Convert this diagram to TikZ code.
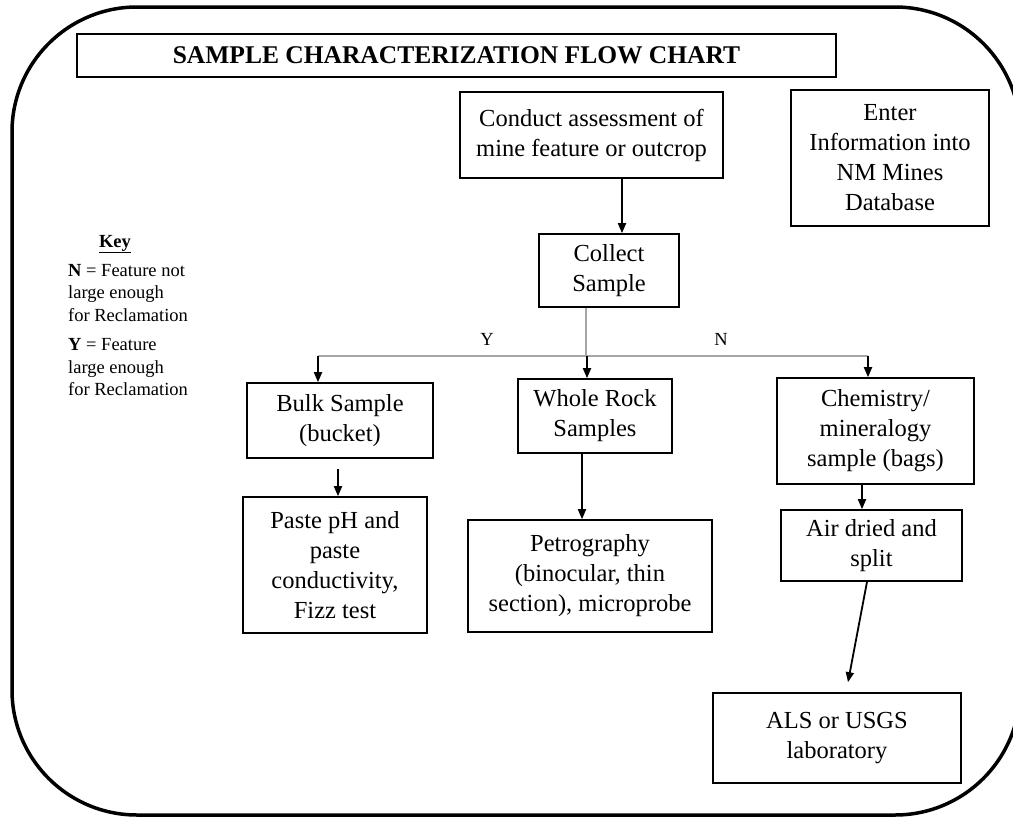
\documentclass[tikz,border=0pt]{standalone}
\usepackage{fontspec}
\setmainfont{Liberation Serif}
\usetikzlibrary{arrows.meta}

\begin{document}
\begin{tikzpicture}[x=1pt, y=-1pt,
		box/.style={draw, line width=1.6pt, align=center, inner sep=0pt, font=\fontsize{24.5}{30}\selectfont},
		arr/.style={-{Triangle[length=10pt, width=8pt]}, line width=1.8pt},
		grayline/.style={draw=black!35, line width=1.5pt},
		small/.style={font=\fontsize{18.5}{22.5}\selectfont}]
	\useasboundingbox (0,0) rectangle (1013,817);

	% outer frame
	\draw[line width=3.5pt, rounded corners=125pt] (12,7) rectangle (1020,815);

	% title
	\node[box, minimum width=759pt, minimum height=43pt, font=\fontsize{25.5}{30}\selectfont\bfseries] (title) at (456.5,55.5) {SAMPLE CHARACTERIZATION FLOW CHART};

	% boxes
	\node[box, minimum width=263pt, minimum height=86pt] (conduct) at (591.5,135) {Conduct assessment of\\mine feature or outcrop};
	\node[box, minimum width=198pt, minimum height=136pt] (enter) at (890,158) {Enter\\Information into\\NM Mines\\Database};
	\node[box, minimum width=140pt, minimum height=73pt] (collect) at (609,270.5) {Collect\\Sample};
	\node[box, minimum width=186pt, minimum height=75pt] (bulk) at (340,420.5) {Bulk Sample\\(bucket)};
	\node[box, minimum width=154pt, minimum height=74pt] (whole) at (595,416) {Whole Rock\\Samples};
	\node[box, minimum width=197pt, minimum height=106pt] (chem) at (875.5,431) {Chemistry/\\mineralogy\\sample (bags)};
	\node[box, minimum width=181pt, minimum height=71pt] (air) at (871.5,545.5) {Air dried and\\split};
	\node[box, minimum width=184pt, minimum height=136pt] (paste) at (335,565) {Paste pH and\\paste\\conductivity,\\Fizz test};
	\node[box, minimum width=244pt, minimum height=112pt] (petro) at (590,576) {Petrography\\(binocular, thin\\section), microprobe};
	\node[box, minimum width=248pt, minimum height=90pt] (als) at (837,738) {ALS or USGS\\laboratory};

	% key
	\node[small, font=\fontsize{18.5}{22.5}\selectfont\bfseries, anchor=base] (keyhead) at (115,247) {\underline{Key}};
	\node[small, align=left, anchor=north west, inner sep=0pt] (keytext) at (68,264) {\textbf{N} = Feature not\\large enough\\for Reclamation\\[7pt]\textbf{Y} = Feature\\large enough\\for Reclamation};

	% split
	\coordinate (split) at (586,356);
	\coordinate (yb) at (318,356);
	\coordinate (yw) at (587,356);
	\coordinate (yc) at (868,356);
	\node[small] (ylabel) at (487,339) {Y};
	\node[small] (nlabel) at (721,339) {N};

	\draw[arr] ([xshift=30.5pt]conduct.south) -- ([xshift=13pt]collect.north);
	\draw[grayline] (split |- collect.south) -- (split);
	\draw[grayline] (yb) -- (yc);
	\draw[arr] (yb) -- (yb |- bulk.north);
	\draw[arr] (yw) -- (yw |- whole.north);
	\draw[arr] (yc) -- (yc |- chem.north);

	\draw[arr] ([shift={(-2,10)}]bulk.south) -- ([xshift=3pt]paste.north);
	\draw[arr] ([xshift=-13pt]whole.south) -- ([xshift=-8pt]petro.north);
	\draw[arr] ([xshift=-13.5pt]chem.south) -- ([xshift=-9.5pt]air.north);
	\draw[arr] ([xshift=-4.5pt]air.south) -- ([shift={(11,-10)}]als.north);
\end{tikzpicture}
\end{document}
